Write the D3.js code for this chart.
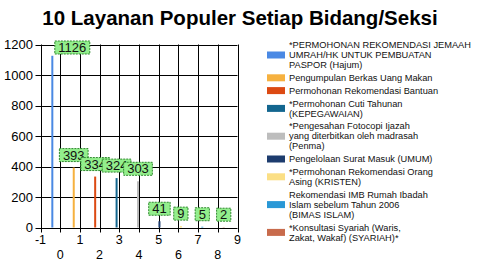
<!DOCTYPE html>
<html>
<head>
<meta charset="utf-8">
<script src="https://cdn.jsdelivr.net/npm/d3@7"></script>
<style>
  body { margin: 0; background: #fff; }
  text { font-family: "Liberation Sans", Arial, sans-serif; }
</style>
</head>
<body>
<div id="chart"></div>
<script>
// Chart data
const categories = [
  ["*PERMOHONAN REKOMENDASI JEMAAH", "UMRAH/HK UNTUK PEMBUATAN", "PASPOR (Hajum)"],
  ["Pengumpulan Berkas Uang Makan"],
  ["Permohonan Rekomendasi Bantuan"],
  ["*Permohonan Cuti Tahunan", "(KEPEGAWAIAN)"],
  ["*Pengesahan Fotocopi Ijazah", "yang diterbitkan oleh madrasah", "(Penma)"],
  ["Pengelolaan Surat Masuk (UMUM)"],
  ["*Permohonan Rekomendasi Orang", "Asing (KRISTEN)"],
  ["Rekomendasi IMB Rumah Ibadah", "Islam sebelum Tahun 2006", "(BIMAS ISLAM)"],
  ["*Konsultasi Syariah (Waris,", "Zakat, Wakaf) (SYARIAH)*"]
];
const values = [1126, 393, 334, 324, 303, 41, 9, 5, 2];
const colors = ["#4a89e4", "#f6b13f", "#dc4a13", "#13668f", "#bdbdbd",
                "#1d3c6e", "#fbdf85", "#2a98d6", "#c86b4c"];
const xTicks = d3.range(-1, 10);
const yTicks = d3.range(0, 1201, 200);

const W = 480, H = 274;
const svg = d3.select("#chart").append("svg")
  .attr("width", W).attr("height", H);

// Title
svg.append("text")
  .attr("x", 240).attr("y", 25)
  .attr("text-anchor", "middle")
  .style("font-size", "20.5px").style("font-weight", "bold")
  .text("10 Layanan Populer Setiap Bidang/Seksi");

// Scales
const x = d3.scaleLinear().domain([-1, 9]).range([40.5, 237.5]);
const y = d3.scaleLinear().domain([0, 1200]).range([227.5, 44.5]);
const names = categories.map(c => c.join(" "));
const xBar = d3.scalePoint().domain(names).range([x(-0.4), x(8.3)]);

// Grid
const grid = svg.append("g").attr("stroke", "#000").attr("stroke-width", 1);
grid.selectAll("line.v").data(xTicks).enter().append("line")
  .attr("x1", d => Math.round(x(d)) + 0.5).attr("x2", d => Math.round(x(d)) + 0.5)
  .attr("y1", y(1200)).attr("y2", y(0) + 5);
grid.selectAll("line.h").data(yTicks).enter().append("line")
  .attr("x1", x(-1) - 5).attr("x2", x(9))
  .attr("y1", d => Math.round(y(d)) + 0.5).attr("y2", d => Math.round(y(d)) + 0.5);

// Y axis labels
svg.append("g").selectAll("text").data(yTicks).enter().append("text")
  .attr("x", 33).attr("y", d => y(d))
  .attr("dy", "0.35em").attr("text-anchor", "end")
  .style("font-size", "13px")
  .text(d => d);

// X axis labels (staggered)
svg.append("g").selectAll("text").data(xTicks).enter().append("text")
  .attr("x", d => x(d))
  .attr("y", (d, i) => i % 2 === 0 ? 244 : 259)
  .attr("text-anchor", "middle")
  .style("font-size", "12.5px")
  .text(d => d);

// Bars
svg.append("g").selectAll("rect").data(values).enter().append("rect")
  .attr("x", (d, i) => xBar(names[i]) - 1)
  .attr("width", 2)
  .attr("y", d => y(d))
  .attr("height", d => y(0) - y(d))
  .attr("fill", (d, i) => colors[i]);

// Value labels
const labels = svg.append("g");
values.forEach((v, i) => {
  const g = labels.append("g");
  const t = g.append("text").style("font-size", "13px").text(v);
  const tw = t.node().getComputedTextLength();
  const bw = tw + 7, bh = 13;
  const bx = xBar(names[i]);
  let left = bx - bw / 2;
  let top = y(v) - 6 - bh;
  if (top < y(1200) - 4) {
    // no room above: push it right of the bar
    top = y(1200) - 3.5;
    left = bx + 2.5;
  }
  g.insert("rect", "text")
    .attr("x", left).attr("y", top)
    .attr("width", bw).attr("height", bh)
    .attr("fill", "#93ee8c")
    .attr("stroke", "#2f8a2f").attr("stroke-width", 1)
    .attr("stroke-dasharray", "2,1");
  t.attr("x", left + bw / 2).attr("y", top + bh / 2)
    .attr("dy", "0.36em").attr("text-anchor", "middle")
    .attr("fill", "#111");
});

// Legend
const legend = svg.append("g").attr("transform", "translate(267,45)");
const lineH = 10, gap = 2.8;
let ly = 0;
categories.forEach((lines, i) => {
  const item = legend.append("g").attr("transform", "translate(0," + ly + ")");
  const blockMid = (lines.length - 1) * lineH / 2;
  item.append("rect")
    .attr("x", 0).attr("y", blockMid - 3.5)
    .attr("width", 18).attr("height", 7)
    .attr("fill", colors[i]);
  lines.forEach((ln, j) => {
    item.append("text")
      .attr("x", 22).attr("y", j * lineH)
      .attr("dy", "0.35em")
      .style("font-size", "9.25px").attr("fill", "#111")
      .text(ln);
  });
  ly += lines.length * lineH + gap;
});
</script>
</body>
</html>
